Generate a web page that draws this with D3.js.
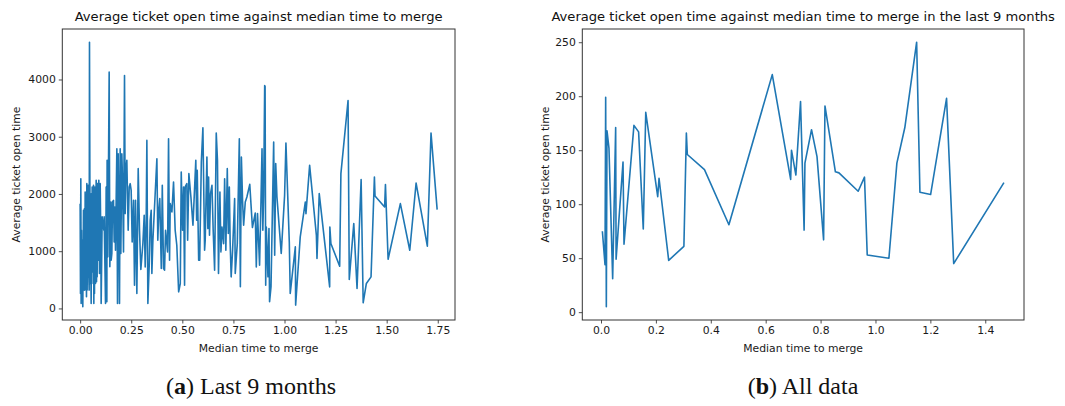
<!DOCTYPE html>
<html><head><meta charset="utf-8">
<script src="https://cdn.jsdelivr.net/npm/d3@7"></script>
<style>
body{margin:0;background:#fff;}
svg{display:block;}
.tick text{font-family:"DejaVu Sans",sans-serif;font-size:10.8px;fill:#1a1a1a;}
.lbl{font-family:"DejaVu Sans",sans-serif;font-size:10.8px;fill:#1a1a1a;}
.ttl{font-family:"DejaVu Sans",sans-serif;font-size:13.1px;fill:#111;}
.cap{font-family:"Liberation Serif","Times New Roman",serif;font-size:24px;fill:#111;}
</style></head>
<body>
<svg id="c" width="1065" height="406"></svg>
<script>
// Chart (a): Last 9 months
const lastX = [0.000,0.0016,0.0033,0.0049,0.0065,0.0082,0.0114,0.0130,0.0163,0.0180,0.0196,0.0213,0.0229,0.0245,0.0278,0.0294,0.0310,0.0327,0.0343,0.0360,0.0376,0.0392,0.0425,0.0441,0.0457,0.0490,0.0506,0.0522,0.0539,0.0555,0.0571,0.0588,0.0620,0.0653,0.0670,0.0686,0.0702,0.0718,0.0751,0.0767,0.0784,0.0800,0.0816,0.0832,0.0849,0.0881,0.0898,0.0914,0.0930,0.0947,0.0980,0.1012,0.1028,0.1060,0.1077,0.1110,0.1160,0.1175,0.1224,0.1241,0.1273,0.1306,0.1320,0.1355,0.1420,0.1453,0.1502,0.1518,0.1551,0.1584,0.1632,0.1665,0.1698,0.1730,0.1796,0.1828,0.1861,0.1893,0.1926,0.1959,0.1991,0.2040,0.2073,0.2122,0.2171,0.2204,0.2236,0.2285,0.2318,0.2350,0.2400,0.2449,0.2497,0.2546,0.2612,0.2660,0.2710,0.2775,0.2841,0.2905,0.2970,0.3070,0.3134,0.3183,0.3232,0.3265,0.3314,0.3380,0.3428,0.3477,0.3510,0.3560,0.3755,0.3800,0.3850,0.3897,0.3970,0.4020,0.4080,0.4130,0.4180,0.4277,0.4326,0.4375,0.4408,0.4490,0.4570,0.4650,0.4730,0.4820,0.4900,0.4947,0.5010,0.5060,0.5110,0.5140,0.5220,0.5260,0.5320,0.5420,0.5520,0.5660,0.5700,0.5730,0.5770,0.5800,0.5850,0.5930,0.6007,0.6090,0.6120,0.6203,0.6250,0.6285,0.6330,0.6380,0.6450,0.6510,0.6580,0.6660,0.6720,0.6770,0.6840,0.6890,0.6940,0.7020,0.7070,0.7130,0.7200,0.7250,0.7300,0.7340,0.7390,0.7460,0.7560,0.7590,0.7690,0.7790,0.7840,0.7890,0.7950,0.8000,0.8080,0.8160,0.8300,0.8430,0.8570,0.8620,0.8680,0.8780,0.8850,0.8900,0.8940,0.8980,0.9030,0.9050,0.9080,0.9110,0.9190,0.9240,0.9270,0.9340,0.9470,0.9520,0.9570,0.9630,0.9840,1.0005,1.0070,1.0235,1.0280,1.0530,1.0545,1.0770,1.1020,1.1050,1.1230,1.1560,1.1590,1.1700,1.2210,1.2220,1.2270,1.2700,1.2760,1.3110,1.3170,1.3390,1.3550,1.3750,1.3850,1.4006,1.4235,1.4400,1.4430,1.4900,1.4940,1.5070,1.5670,1.6130,1.6440,1.6990,1.7170,1.7470];
const lastY = [1831,262,2267,87,1366,203,1192,29,1715,959,320,1744,320,2035,610,1541,203,2180,320,2151,552,2151,552,320,4651,436,1200,785,87,2006,436,2122,639,2151,87,1500,261,2122,436,1700,2238,465,1100,552,2180,843,2122,2238,1337,610,2180,1192,87,1017,1599,1483,1366,1599,494,87,2122,116,2587,901,4128,727,1860,843,959,1860,1889,1163,1773,1017,2791,87,2703,1773,87,2791,959,2703,2238,988,4070,1657,2413,2587,1947,1366,2122,2180,2064,1162,1889,406,1889,262,2442,1366,680,1133,1627,726,1540,2936,87,755,1540,1715,610,1191,2616,1191,1715,1918,697,2151,697,668,1366,988,2965,843,1831,1686,2209,1366,1104,290,436,2384,1366,2122,406,2122,2180,1191,2355,1947,1453,2587,1540,2412,1482,843,843,2558,3157,1017,1191,2645,1395,2296,1279,2006,2151,1366,668,3064,2587,610,2035,988,1424,1133,2267,1017,2442,1308,2122,1162,552,1017,1918,610,1133,2965,378,2645,1860,1453,1860,1947,2168,1413,1668,726,1656,755,1889,2791,1366,1976,3895,3880,406,1424,552,1395,116,378,2906,930,2532,1950,959,1976,2889,1162,262,1075,58,1250,1860,1656,2500,1279,872,2006,377,1424,1134,738,2355,3633,506,1482,349,2250,98,436,552,2296,1964,1773,2163,860,1831,1017,2191,1087,3063,1727];
const lastXTicks = [0,0.25,0.5,0.75,1.0,1.25,1.5,1.75];
const lastYTicks = [0,1000,2000,3000,4000];

// Chart (b): All data
const allX = [0.005,0.0146,0.0170,0.0194,0.0219,0.029,0.0425,0.0534,0.055,0.0802,0.0838,0.120,0.137,0.154,0.163,0.2066,0.2114,0.2466,0.302,0.311,0.3145,0.377,0.466,0.624,0.691,0.694,0.710,0.727,0.740,0.743,0.767,0.787,0.811,0.816,0.854,0.867,0.937,0.960,0.970,1.049,1.078,1.107,1.150,1.162,1.201,1.259,1.285,1.468];
const allY = [75,44,199,5,168,152,31,171,49,139,63,173,167,77,185,107,124,48,61,166,146,132,81,220,123,150,127,195,76,138,169,144,67,191,130,129,112,125,53,50,138,171,250,111,109,198,45,120];
const allXTicks = [0,0.2,0.4,0.6,0.8,1.0,1.2,1.4];
const allYTicks = [0,50,100,150,200,250];

const titles = ["Average ticket open time against median time to merge",
                "Average ticket open time against median time to merge in the last 9 months"];
const xLabel = "Median time to merge";
const yLabel = "Average ticket open time";

const svg = d3.select("#c");

function pad(ext){ const r = ext[1]-ext[0]; return [ext[0]-0.05*r, ext[1]+0.05*r]; }

function panel(cfg){
  const g = svg.append("g");
  const x = d3.scaleLinear().domain(pad(d3.extent(cfg.xs))).range([cfg.left, cfg.right]);
  const y = d3.scaleLinear().domain(pad(d3.extent(cfg.ys))).range([cfg.bottom, cfg.top]);
  const pts = cfg.xs.map((v,i)=>[v,cfg.ys[i]]);
  g.append("path").datum(pts)
    .attr("fill","none").attr("stroke","#1f77b4").attr("stroke-width",1.6)
    .attr("stroke-linejoin","round")
    .attr("d", d3.line().x(d=>x(d[0])).y(d=>y(d[1])));
  const xa = g.append("g").attr("transform",`translate(0,${cfg.bottom})`)
    .call(d3.axisBottom(x).tickValues(cfg.xTicks).tickFormat(d3.format(cfg.xFmt)).tickSize(3.5).tickPadding(3));
  const ya = g.append("g").attr("transform",`translate(${cfg.left},0)`)
    .call(d3.axisLeft(y).tickValues(cfg.yTicks).tickFormat(d3.format("d")).tickSize(3.5).tickPadding(3));
  [xa,ya].forEach(a=>{a.select(".domain").remove(); a.selectAll("line").attr("stroke","#222").attr("stroke-width",0.8);});
  g.append("rect").attr("x",cfg.left).attr("y",cfg.top)
    .attr("width",cfg.right-cfg.left).attr("height",cfg.bottom-cfg.top)
    .attr("fill","none").attr("stroke","#333").attr("stroke-width",1);
  g.append("text").attr("class","ttl").attr("x",(cfg.left+cfg.right)/2).attr("y",21)
    .attr("text-anchor","middle").text(cfg.title);
  g.append("text").attr("class","lbl").attr("x",(cfg.left+cfg.right)/2).attr("y",352)
    .attr("text-anchor","middle").text(xLabel);
  g.append("text").attr("class","lbl")
    .attr("transform",`translate(${cfg.ylx},${(cfg.top+cfg.bottom)/2}) rotate(-90)`)
    .attr("text-anchor","middle").text(yLabel);
  const cap = svg.append("text").attr("class","cap").attr("x",cfg.capX).attr("y",394)
    .attr("text-anchor","middle");
  cap.append("tspan").text("(");
  cap.append("tspan").attr("font-weight","bold").text(cfg.capLetter);
  cap.append("tspan").text(") "+cfg.capText);
}

panel({xs:lastX, ys:lastY, left:62.3, right:455, top:29, bottom:320,
  xTicks:lastXTicks, yTicks:lastYTicks, xFmt:".2f", title:titles[0], ylx:20,
  capLetter:"a", capText:"Last 9 months", capX:251});
panel({xs:allX, ys:allY, left:582.3, right:1024, top:29, bottom:320,
  xTicks:allXTicks, yTicks:allYTicks, xFmt:".1f", title:titles[1], ylx:549,
  capLetter:"b", capText:"All data", capX:803});
</script>
</body></html>
